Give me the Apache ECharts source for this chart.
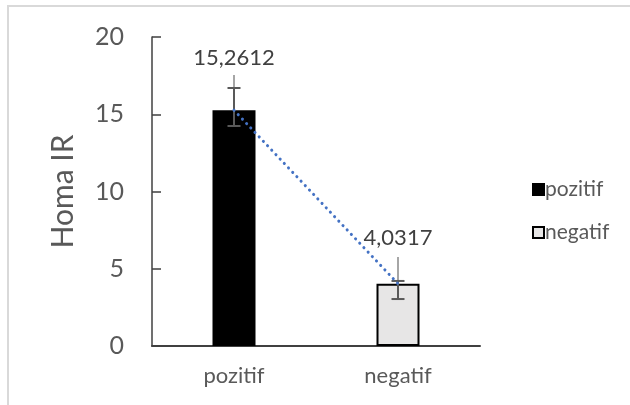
<!DOCTYPE html>
<html><head><meta charset="utf-8">
<script src="https://cdn.jsdelivr.net/npm/echarts@6/dist/echarts.min.js"></script>
<style>html,body{margin:0;padding:0;background:#fff}#c{width:630px;height:405px}</style>
</head><body><div id="c"></div>
<script>
const categories = ['pozitif', 'negatif'];
const values = [15.2612, 4.0317];
const labels = ['15,2612', '4,0317'];
const errLow = [14.24, 3.04];
const errHigh = [16.70, 4.21];
const errLightTop = [17.54, 5.76];
const yTicks = [0, 5, 10, 15, 20];
const FONT = 'Lato, "Open Sans", sans-serif';

const barColors = ['#000000', '#E7E6E6'];
const chart = echarts.init(document.getElementById('c'));

const barSeries = categories.map((c, i) => ({
  name: c,
  type: 'bar',
  barGap: '-100%',
  barWidth: 43,
  data: categories.map((_, j) => j === i ? {
    value: values[i],
    label: { show: true, position: 'top', distance: i === 0 ? 41 : 35, formatter: labels[i] }
  } : null),
  itemStyle: { color: barColors[i], borderColor: '#000', borderWidth: 2 },
  label: { color: '#404040', fontSize: 22, fontFamily: FONT },
  z: 2
}));

const errData = categories.map((_, i) => [i, values[i], errLow[i], errHigh[i], errLightTop[i]]);

chart.setOption({
  animation: false,
  graphic: [{ type: 'rect', shape: { x: 8, y: 6, width: 640, height: 420 }, style: { fill: 'none', stroke: '#D9D9D9', lineWidth: 2 }, silent: true }],
  grid: { left: 152, right: 150, top: 37, bottom: 59 },
  legend: {
    data: categories,
    orient: 'vertical',
    left: 527, top: 174,
    itemGap: 22,
    itemWidth: 11, itemHeight: 11,
    icon: 'rect',
    textStyle: { color: '#595959', fontSize: 21, fontFamily: FONT, padding: [0, 0, 0, -4] }
  },
  xAxis: {
    type: 'category', data: categories,
    axisLine: { lineStyle: { color: '#404040', width: 2 } },
    axisTick: { show: false },
    axisLabel: { color: '#595959', fontSize: 22, fontFamily: FONT, margin: 19 }
  },
  yAxis: {
    type: 'value', min: 0, max: 20, interval: 5,
    name: 'Homa IR', nameLocation: 'middle', nameGap: 74,
    nameTextStyle: { color: '#595959', fontSize: 30, fontFamily: FONT },
    axisLine: { show: true, lineStyle: { color: '#404040', width: 1.5 } },
    axisTick: { show: true, inside: true, length: 9, lineStyle: { color: '#404040', width: 1.5 } },
    splitLine: { show: false },
    axisLabel: { color: '#595959', fontSize: 25, fontFamily: FONT, margin: 28,
      formatter: v => yTicks.includes(v) ? String(v) : '' }
  },
  series: [
    ...barSeries,
    {
      type: 'line', data: values, symbol: 'none', silent: true,
      lineStyle: { color: '#4472C4', width: 3, type: [0.1, 6], cap: 'round' },
      z: 5
    },
    {
      type: 'custom', silent: true, z: 4,
      data: errData,
      renderItem: (params, api) => {
        const x = api.value(0);
        const pv = api.coord([x, api.value(1)]);
        const pl = api.coord([x, api.value(2)]);
        const ph = api.coord([x, api.value(3)]);
        const pt = api.coord([x, api.value(4)]);
        const cw = 6.5;
        return { type: 'group', children: [
          { type: 'line', shape: { x1: pv[0], y1: pv[1], x2: pt[0], y2: pt[1] }, style: { stroke: '#A6A6A6', lineWidth: 2 } },
          { type: 'line', shape: { x1: pl[0], y1: pl[1], x2: ph[0], y2: ph[1] }, style: { stroke: '#595959', lineWidth: 2 } },
          { type: 'line', shape: { x1: pl[0] - cw, y1: pl[1], x2: pl[0] + cw, y2: pl[1] }, style: { stroke: '#595959', lineWidth: 2 } },
          { type: 'line', shape: { x1: ph[0] - cw, y1: ph[1], x2: ph[0] + cw, y2: ph[1] }, style: { stroke: '#595959', lineWidth: 2 } }
        ]};
      }
    }
  ]
});
</script></body></html>
